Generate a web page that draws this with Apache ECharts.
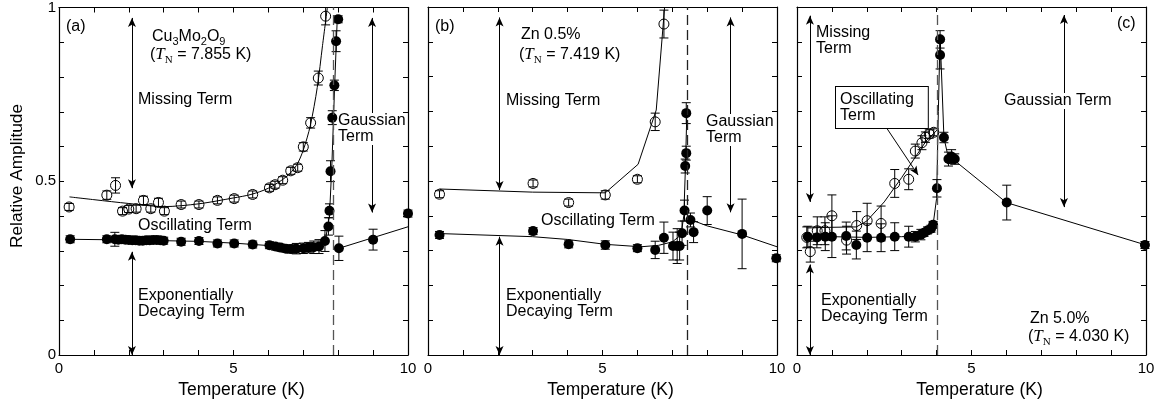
<!DOCTYPE html>
<html>
<head>
<meta charset="utf-8">
<script src="https://cdn.jsdelivr.net/npm/echarts@6/dist/echarts.min.js"></script>
<style>
  html, body { margin: 0; padding: 0; background: #fff; }
  #main { width: 1161px; height: 407px; }
</style>
</head>
<body>
<div id="main"></div>
<script>
// ---- data ----
// (a) Cu3Mo2O9
var aOpenT = [0.29, 1.37, 1.62, 1.82, 2.0, 2.21, 2.42, 2.63, 2.85, 3.02, 3.5, 4.01, 4.54, 5.02, 5.55, 6.03, 6.19, 6.41, 6.64, 6.84, 7.0, 7.21, 7.43, 7.64];
var aOpenA = [0.426, 0.46, 0.488, 0.414, 0.42, 0.421, 0.445, 0.421, 0.439, 0.414, 0.433, 0.433, 0.445, 0.45, 0.462, 0.481, 0.49, 0.503, 0.53, 0.539, 0.599, 0.668, 0.797, 0.975];
var aOpenE = [0.01, 0.012, 0.022, 0.01, 0.01, 0.01, 0.012, 0.01, 0.012, 0.01, 0.01, 0.01, 0.01, 0.01, 0.01, 0.01, 0.01, 0.01, 0.01, 0.01, 0.012, 0.015, 0.02, 0.025];
var aFillT = [0.32, 1.37, 1.6, 1.7, 1.8, 1.9, 2.0, 2.1, 2.2, 2.3, 2.4, 2.5, 2.6, 2.7, 2.8, 2.9, 3.0, 3.5, 4.01, 4.54, 5.02, 5.55, 6.03, 6.2, 6.35, 6.5, 6.65, 6.8, 7.0, 7.15, 7.3, 7.45, 7.62, 7.72, 7.75, 7.78, 7.83, 7.89, 7.94, 8.0, 8.02, 9.0, 10.0];
var aFillA = [0.333, 0.333, 0.333, 0.332, 0.333, 0.332, 0.331, 0.33, 0.33, 0.329, 0.329, 0.33, 0.33, 0.331, 0.331, 0.33, 0.329, 0.326, 0.328, 0.321, 0.321, 0.318, 0.316, 0.312, 0.309, 0.306, 0.305, 0.306, 0.307, 0.309, 0.31, 0.312, 0.328, 0.37, 0.415, 0.529, 0.683, 0.776, 0.903, 0.966, 0.307, 0.332, 0.407];
var aFillE = [0.01, 0.01, 0.02, 0.01, 0.01, 0.01, 0.01, 0.01, 0.01, 0.01, 0.01, 0.01, 0.01, 0.01, 0.01, 0.01, 0.01, 0.01, 0.01, 0.01, 0.01, 0.01, 0.01, 0.01, 0.01, 0.01, 0.012, 0.015, 0.015, 0.015, 0.018, 0.02, 0.03, 0.025, 0.02, 0.03, 0.02, 0.015, 0.03, 0.01, 0.035, 0.03, 0.01];
var aOpenFitT = [0.3, 1, 2, 3, 4, 5, 5.5, 6, 6.5, 6.8, 7.0, 7.2, 7.4, 7.55, 7.69];
var aOpenFitA = [0.455, 0.447, 0.436, 0.427, 0.435, 0.452, 0.462, 0.48, 0.512, 0.545, 0.59, 0.66, 0.77, 0.89, 1.0];
var aFillFitT = [0.3, 2, 4, 5, 6, 6.8, 7.2, 7.5, 7.65, 7.75, 7.82, 7.9, 7.97, null, 8.02, 10.0];
var aFillFitA = [0.333, 0.331, 0.327, 0.322, 0.315, 0.308, 0.312, 0.32, 0.34, 0.4, 0.55, 0.78, 0.96, null, 0.307, 0.369];

// (b) Zn 0.5%
var bOpenT = [0.33, 3.01, 4.03, 5.08, 6.0, 6.51, 6.76];
var bOpenA = [0.462, 0.493, 0.438, 0.46, 0.505, 0.67, 0.951];
var bOpenE = [0.01, 0.01, 0.01, 0.012, 0.01, 0.025, 0.04];
var bFillT = [0.33, 3.01, 4.03, 5.08, 6.0, 6.51, 6.76, 7.02, 7.14, 7.21, 7.28, 7.35, 7.37, 7.40, 7.40, 7.52, 7.61, 8.0, 9.0, 9.98];
var bFillA = [0.345, 0.356, 0.318, 0.316, 0.307, 0.302, 0.337, 0.313, 0.313, 0.313, 0.35, 0.415, 0.543, 0.58, 0.695, 0.388, 0.353, 0.415, 0.348, 0.278];
var bFillE = [0.01, 0.01, 0.01, 0.012, 0.01, 0.025, 0.045, 0.04, 0.05, 0.04, 0.035, 0.03, 0.02, 0.02, 0.03, 0.02, 0.03, 0.04, 0.1, 0.01];
var bOpenFitT = [0.33, 3.0, 5.08, 6.02, 6.54, 6.78];
var bOpenFitA = [0.477, 0.468, 0.466, 0.548, 0.704, 1.0];
var bFillFitT = [0.33, 3.0, 4.0, 5.08, 6.1, 6.6, 7.0, 7.25, 7.33, 7.38, 7.42, null, 7.5, 8.0, 9.0, 10.0];
var bFillFitA = [0.349, 0.34, 0.332, 0.318, 0.311, 0.315, 0.325, 0.345, 0.4, 0.55, 0.71, null, 0.39, 0.371, 0.345, 0.311];

// (c) Zn 5.0%
var cOpenT = [0.28, 0.38, 0.58, 0.8, 1.0, 1.42, 1.71, 2.01, 2.41, 2.80, 3.2, 3.39, 3.58, 3.68, 3.79, 3.92];
var cOpenA = [0.338, 0.297, 0.357, 0.357, 0.40, 0.33, 0.372, 0.386, 0.378, 0.493, 0.505, 0.586, 0.61, 0.626, 0.635, 0.64];
var cOpenE = [0.03, 0.03, 0.04, 0.04, 0.06, 0.04, 0.04, 0.05, 0.05, 0.04, 0.03, 0.02, 0.02, 0.015, 0.012, 0.01];
var cFillT = [0.31, 0.57, 0.81, 1.0, 1.41, 1.70, 2.01, 2.41, 2.80, 3.2, 3.39, 3.55, 3.64, 3.74, 3.84, 3.9, 4.01, 4.1, 4.1, 4.21, 4.34, 4.43, 4.52, 6.01, 9.97];
var cFillA = [0.34, 0.338, 0.34, 0.34, 0.342, 0.316, 0.337, 0.337, 0.34, 0.34, 0.34, 0.346, 0.351, 0.358, 0.363, 0.374, 0.479, 0.907, 0.862, 0.625, 0.563, 0.57, 0.563, 0.438, 0.316];
var cFillE = [0.03, 0.03, 0.04, 0.06, 0.04, 0.04, 0.04, 0.04, 0.04, 0.03, 0.015, 0.015, 0.01, 0.01, 0.01, 0.01, 0.025, 0.025, 0.04, 0.015, 0.02, 0.02, 0.015, 0.05, 0.01];
var cOpenFitT = [0.3, 1.0, 1.7, 2.0, 2.5, 3.0, 3.4, 3.7, 3.9, 4.05];
var cOpenFitA = [0.365, 0.367, 0.368, 0.385, 0.44, 0.51, 0.57, 0.615, 0.635, 0.65];
var cFillFitT = [0.3, 1, 2, 3, 3.4, 3.7, 3.9, 4.0, 4.05, 4.1, 4.21, 4.34, 4.5, 6.0, 10.0];
var cFillFitA = [0.34, 0.34, 0.338, 0.34, 0.342, 0.355, 0.375, 0.45, 0.7, 0.92, 0.625, 0.565, 0.56, 0.438, 0.316];

var tnValues = [7.855, 7.419, 4.030];
var xTicks = [0, 5, 10];
var yTicks = [0, 0.5, 1];

var FONT = 'Liberation Sans, Arial, sans-serif';
var SERIF = 'Liberation Serif, Times New Roman, serif';

function pairs(t, a, e) {
    return t.map(function (v, i) {
        if (v === null) return [null, null];
        return e ? [v, a[i], e[i]] : [v, a[i]];
    });
}

var lefts = [59, 428, 797];
var grids = lefts.map(function (l) {
    return {left: l, top: 7, width: 349, height: 348};
});

function xAx(i, top) {
    return {
        type: 'value', gridIndex: i, min: 0, max: 10, interval: 1,
        position: top ? 'top' : 'bottom',
        name: top ? '' : 'Temperature (K)',
        nameLocation: 'middle', nameGap: 25,
        nameTextStyle: {fontFamily: FONT, fontSize: 17.5, color: '#000', padding: [0, 0, 0, 16]},
        axisLine: {onZero: false, lineStyle: {color: '#000', width: 1.2}},
        axisTick: {inside: true, length: 5, lineStyle: {color: '#000'}},
        splitLine: {show: false},
        axisLabel: {
            show: !top, margin: 6, fontFamily: FONT, fontSize: 15, color: '#000',
            formatter: function (v) {
                return xTicks.indexOf(Math.round(v * 1000) / 1000) >= 0 ? String(Math.round(v)) : '';
            }
        }
    };
}

function yAx(i, right) {
    return {
        type: 'value', gridIndex: i, min: 0, max: 1, interval: 0.1,
        position: right ? 'right' : 'left',
        axisLine: {onZero: false, lineStyle: {color: '#000', width: 1.2}},
        axisTick: {inside: true, length: 5, lineStyle: {color: '#000'}},
        splitLine: {show: false},
        axisLabel: {
            show: !right && i === 0, margin: 3, fontFamily: FONT, fontSize: 15, color: '#000',
            formatter: function (v) {
                var r = Math.round(v * 1000) / 1000;
                return yTicks.indexOf(r) >= 0 ? String(r) : '';
            }
        }
    };
}

function errSeries(i, t, a, e) {
    return {
        type: 'custom', xAxisIndex: i, yAxisIndex: i, silent: true, z: 3,
        data: pairs(t, a, e),
        renderItem: function (params, api) {
            var x = api.value(0), y = api.value(1), err = api.value(2);
            var p1 = api.coord([x, y + err]), p2 = api.coord([x, y - err]);
            var w = 4.5, st = {stroke: '#000', lineWidth: 1};
            return {
                type: 'group',
                children: [
                    {type: 'line', shape: {x1: p1[0], y1: p1[1], x2: p2[0], y2: p2[1]}, style: st},
                    {type: 'line', shape: {x1: p1[0] - w, y1: p1[1], x2: p1[0] + w, y2: p1[1]}, style: st},
                    {type: 'line', shape: {x1: p2[0] - w, y1: p2[1], x2: p2[0] + w, y2: p2[1]}, style: st}
                ]
            };
        }
    };
}

function pts(i, t, a, filled) {
    return {
        type: 'scatter', xAxisIndex: i, yAxisIndex: i, silent: true, z: 4,
        symbol: 'circle', symbolSize: 10,
        itemStyle: filled ? {color: '#000', opacity: 1} : {color: 'rgba(0,0,0,0)', borderColor: '#000', borderWidth: 1, opacity: 1},
        data: pairs(t, a)
    };
}

function fit(i, t, a, smooth, marks) {
    var s = {
        type: 'line', xAxisIndex: i, yAxisIndex: i, silent: true, z: 2,
        showSymbol: false, smooth: smooth, connectNulls: false,
        lineStyle: {color: '#000', width: 1},
        data: pairs(t, a)
    };
    if (marks) {
        s.markLine = {
            silent: true, symbol: ['arrow', 'arrow'], symbolSize: [6, 9],
            label: {show: false},
            lineStyle: {color: '#000', width: 1, type: 'solid'},
            data: marks
        };
    }
    return s;
}

function tnLine(i) {
    return {
        type: 'line', xAxisIndex: i, yAxisIndex: i, silent: true, data: [], z: 1,
        markLine: {
            silent: true, symbol: ['none', 'none'], label: {show: false},
            lineStyle: {color: i === 1 ? '#222' : '#555', width: 1.3, type: [10, 5]},
            data: [{xAxis: tnValues[i]}]
        }
    };
}

function arrow(x1, y1, x2, y2, oneWay) {
    return [{coord: [x1, y1], symbol: oneWay ? 'none' : 'arrow'}, {coord: [x2, y2], symbol: 'arrow'}];
}

var arrowsA = [arrow(2.09, 0.97, 2.09, 0.48), arrow(2.09, 0.297, 2.09, 0.0), arrow(8.97, 0.97, 8.97, 0.41)];
var arrowsB = [arrow(2.05, 0.97, 2.05, 0.474), arrow(2.05, 0.34, 2.05, 0.0), arrow(8.67, 0.97, 8.67, 0.41)];
var arrowsC = [arrow(0.37, 0.975, 0.37, 0.44), arrow(0.37, 0.26, 0.37, 0.0), arrow(7.65, 0.977, 7.65, 0.425),
    arrow(2.55, 0.655, 3.47, 0.517, true)];

var series = [
    tnLine(0), tnLine(1), tnLine(2),
    fit(0, aOpenFitT, aOpenFitA, 0.3, arrowsA), fit(0, aFillFitT, aFillFitA, false),
    fit(1, bOpenFitT, bOpenFitA, false, arrowsB), fit(1, bFillFitT, bFillFitA, false),
    fit(2, cOpenFitT, cOpenFitA, false, arrowsC), fit(2, cFillFitT, cFillFitA, false),
    errSeries(0, aOpenT, aOpenA, aOpenE), errSeries(0, aFillT, aFillA, aFillE),
    errSeries(1, bOpenT, bOpenA, bOpenE), errSeries(1, bFillT, bFillA, bFillE),
    errSeries(2, cOpenT, cOpenA, cOpenE), errSeries(2, cFillT, cFillA, cFillE),
    pts(0, aOpenT, aOpenA, false), pts(0, aFillT, aFillA, true),
    pts(1, bOpenT, bOpenA, false), pts(1, bFillT, bFillA, true),
    pts(2, cOpenT, cOpenA, false), pts(2, cFillT, cFillA, true)
];

// text labels
var rich = {
    s: {fontFamily: FONT, fontSize: 16, lineHeight: 19, fill: '#000'},
    sub: {fontFamily: FONT, fontSize: 11, lineHeight: 11, padding: [11, 0, 0, 0]},
    t: {fontFamily: SERIF, fontStyle: 'italic', fontSize: 17, lineHeight: 19},
    n: {fontFamily: SERIF, fontSize: 11, lineHeight: 11, padding: [11, 0, 0, 0]}
};

function txt(x, y, text, extra) {
    var st = {text: text, font: '16px ' + FONT, fill: '#000', lineHeight: 16, verticalAlign: 'top', rich: rich};
    if (extra) for (var k in extra) st[k] = extra[k];
    return {type: 'text', x: x, y: y, z: 100, style: st};
}

var boxed = {backgroundColor: '#fff'};
var graphics = [
    {type: 'text', x: 17, y: 176, rotation: Math.PI / 2, z: 100,
        style: {text: 'Relative Amplitude', font: '17.3px ' + FONT, fill: '#000', align: 'center', verticalAlign: 'middle'}},

    txt(66, 19, '(a)'),
    txt(152, 27, '{s|Cu}{sub|3}{s|Mo}{sub|2}{s|O}{sub|9}'),
    txt(150, 45, '{s|(}{t|T}{n|N}{s| = 7.855 K)}'),
    txt(138, 92, 'Missing Term'),
    txt(338, 113, 'Gaussian\nTerm', boxed),
    txt(138, 218, 'Oscillating Term'),
    txt(138, 288, 'Exponentially\nDecaying Term'),

    txt(435, 19, '(b)'),
    txt(521, 27, 'Zn 0.5%'),
    txt(519, 45, '{s|(}{t|T}{n|N}{s| = 7.419 K)}'),
    txt(506, 93, 'Missing Term'),
    txt(706, 114, 'Gaussian\nTerm', boxed),
    txt(541, 213, 'Oscillating Term'),
    txt(506, 288, 'Exponentially\nDecaying Term'),

    txt(1117, 16, '(c)'),
    txt(816, 25, 'Missing\nTerm'),
    txt(836, 87, 'Oscillating\nTerm', {backgroundColor: '#fff', borderColor: '#000', borderWidth: 1, padding: [5, 14, 4, 4]}),
    txt(1004, 93, 'Gaussian Term', boxed),
    txt(821, 293, 'Exponentially\nDecaying Term'),
    txt(1030, 311, 'Zn 5.0%'),
    txt(1028, 327, '{s|(}{t|T}{n|N}{s| = 4.030 K)}')
];

var myChart = echarts.init(document.getElementById('main'));
var option = {
    animation: false,
    backgroundColor: '#fff',
    grid: grids,
    xAxis: [xAx(0), xAx(1), xAx(2), xAx(0, true), xAx(1, true), xAx(2, true)],
    yAxis: [yAx(0), yAx(1), yAx(2), yAx(0, true), yAx(1, true), yAx(2, true)],
    series: series,
    graphic: graphics
};
myChart.setOption(option);
</script>
</body>
</html>
